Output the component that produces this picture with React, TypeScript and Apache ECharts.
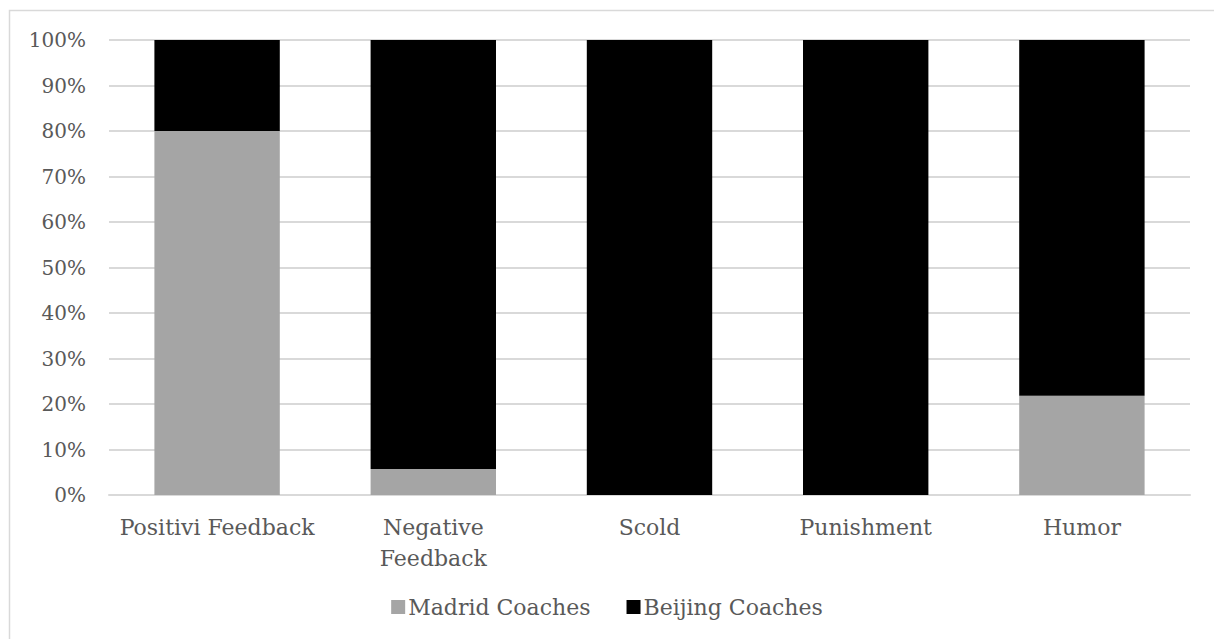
import React, { useEffect, useRef } from "react";
import * as echarts from "echarts";

const categories = ["Positivi Feedback", "Negative\nFeedback", "Scold", "Punishment", "Humor"];
const madridValues = [80, 5.7, 0, 0, 21.8];
const beijingValues = [20, 94.3, 100, 100, 78.2];
const yTicks = [0, 10, 20, 30, 40, 50, 60, 70, 80, 90, 100];

const FONT = "DejaVu Serif";
const TEXT = "#595959";

export default function App() {
  const ref = useRef<HTMLDivElement>(null);
  useEffect(() => {
    document.body.style.margin = "0";
    const chart = echarts.init(ref.current!, null, { renderer: "svg" });
    chart.setOption({
      animation: false,
      backgroundColor: "#ffffff",
      textStyle: { fontFamily: FONT, color: TEXT },
      graphic: [
        {
          type: "rect",
          shape: { x: 9.5, y: 10.5, width: 1220, height: 650 },
          style: { fill: "none", stroke: "#d9d9d9", lineWidth: 1.5 },
          silent: true,
        },
      ],
      grid: { left: 109, right: 24, top: 40, bottom: 144 },
      legend: {
        top: 591,
        left: "center",
        itemWidth: 14,
        itemHeight: 14,
        itemGap: 36,
        icon: "rect",
        textStyle: { fontFamily: FONT, fontSize: 22, color: TEXT, padding: [0, 0, 0, -2] },
        data: ["Madrid Coaches", "Beijing Coaches"],
      },
      xAxis: {
        type: "category",
        data: categories,
        axisLine: { lineStyle: { color: "#d9d9d9", width: 2 } },
        axisTick: { show: false },
        axisLabel: { fontFamily: FONT, fontSize: 22, color: TEXT, margin: 17, lineHeight: 31, interval: 0 },
      },
      yAxis: {
        type: "value",
        min: 0,
        max: 100,
        interval: 10,
        axisLine: { show: false },
        axisTick: { show: false },
        splitLine: { lineStyle: { color: "#d9d9d9", width: 2 } },
        axisLabel: {
          fontFamily: FONT,
          fontSize: 20,
          color: TEXT,
          margin: 23,
          formatter: (v: number) => (yTicks.includes(v) ? v + "%" : ""),
        },
      },
      series: [
        {
          name: "Madrid Coaches",
          type: "bar",
          stack: "total",
          data: madridValues,
          barWidth: "58%",
          itemStyle: { color: "#a5a5a5" },
        },
        {
          name: "Beijing Coaches",
          type: "bar",
          stack: "total",
          data: beijingValues,
          barWidth: "58%",
          itemStyle: { color: "#000000" },
        },
      ],
    });
    return () => chart.dispose();
  }, []);
  return <div ref={ref} style={{ width: 1214, height: 639 }} />;
}
